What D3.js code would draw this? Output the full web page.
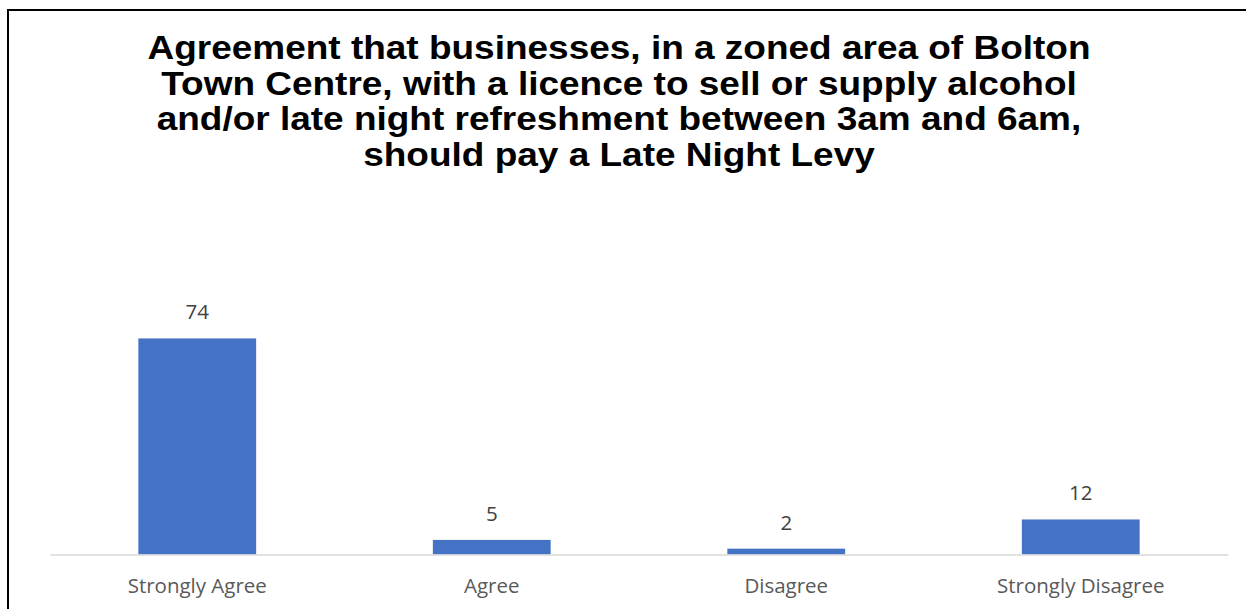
<!DOCTYPE html>
<html>
<head>
<meta charset="utf-8">
<script src="https://cdn.jsdelivr.net/npm/d3@7"></script>
<style>
  html, body { margin: 0; padding: 0; background: #fff; }
  svg { display: block; }
</style>
</head>
<body>
<svg id="chart" width="1246" height="609"></svg>
<script>
const categories = ["Strongly Agree", "Agree", "Disagree", "Strongly Disagree"];
const values = [74, 5, 2, 12];
const titleLines = [
  "Agreement that businesses, in a zoned area of Bolton",
  "Town Centre, with a licence to sell or supply alcohol",
  "and/or late night refreshment between 3am and 6am,",
  "should pay a Late Night Levy"
];

const svg = d3.select("#chart");
const W = 1246, H = 609;
svg.append("rect").attr("width", W).attr("height", H).attr("fill", "#fff");

// outer frame (left and top visible)
svg.append("path")
  .attr("d", `M8,${H + 5} L8,10 L${W + 5},10`)
  .attr("fill", "none").attr("stroke", "#000").attr("stroke-width", 2);

// title (slightly widened, as in the reference)
const title = svg.append("g");
const tNodes = titleLines.map((t, i) =>
  title.append("text")
    .attr("x", 619).attr("y", 59 + i * 35.5)
    .attr("text-anchor", "middle")
    .attr("font-family", "'Liberation Sans', Arial, sans-serif")
    .attr("font-weight", "bold")
    .attr("font-size", 32.5)
    .attr("fill", "#000")
    .text(t)
);
const stretch = 943 / tNodes[0].node().getComputedTextLength();
tNodes.forEach(n => {
  const w = n.node().getComputedTextLength();
  n.attr("textLength", w * stretch).attr("lengthAdjust", "spacingAndGlyphs");
});

const plot = { left: 50, right: 1228, bottom: 554.5 };
const x = d3.scaleBand().domain(categories).range([plot.left, plot.right]).paddingInner(0.6).paddingOuter(0.3);
const y = d3.scaleLinear().domain([0, 80]).range([plot.bottom, plot.bottom - 80 * 2.92]);

svg.append("g").selectAll("rect").data(values).join("rect")
  .attr("x", (d, i) => x(categories[i]))
  .attr("width", x.bandwidth())
  .attr("y", d => y(d))
  .attr("height", d => y(0) - y(d))
  .attr("fill", "#4472C4");

// axis line
const xAxis = svg.append("g").attr("transform", `translate(0,${plot.bottom})`)
  .call(d3.axisBottom(x).tickSize(0).tickPadding(0));
xAxis.select(".domain").attr("stroke", "#D9D9D9").attr("stroke-width", 1.5);
xAxis.selectAll(".tick text")
  .attr("y", 38.5).attr("dy", 0)
  .attr("font-family", "'Open Sans', Calibri, sans-serif")
  .attr("font-size", 20.5)
  .attr("fill", "#595959");

// data labels
svg.append("g").selectAll("text").data(values).join("text")
  .attr("x", (d, i) => x(categories[i]) + x.bandwidth() / 2)
  .attr("y", d => y(d) - 19)
  .attr("text-anchor", "middle")
  .attr("font-family", "'Open Sans', Calibri, sans-serif")
  .attr("font-size", 20.5)
  .attr("fill", "#404040")
  .text(d => d);
</script>
</body>
</html>
